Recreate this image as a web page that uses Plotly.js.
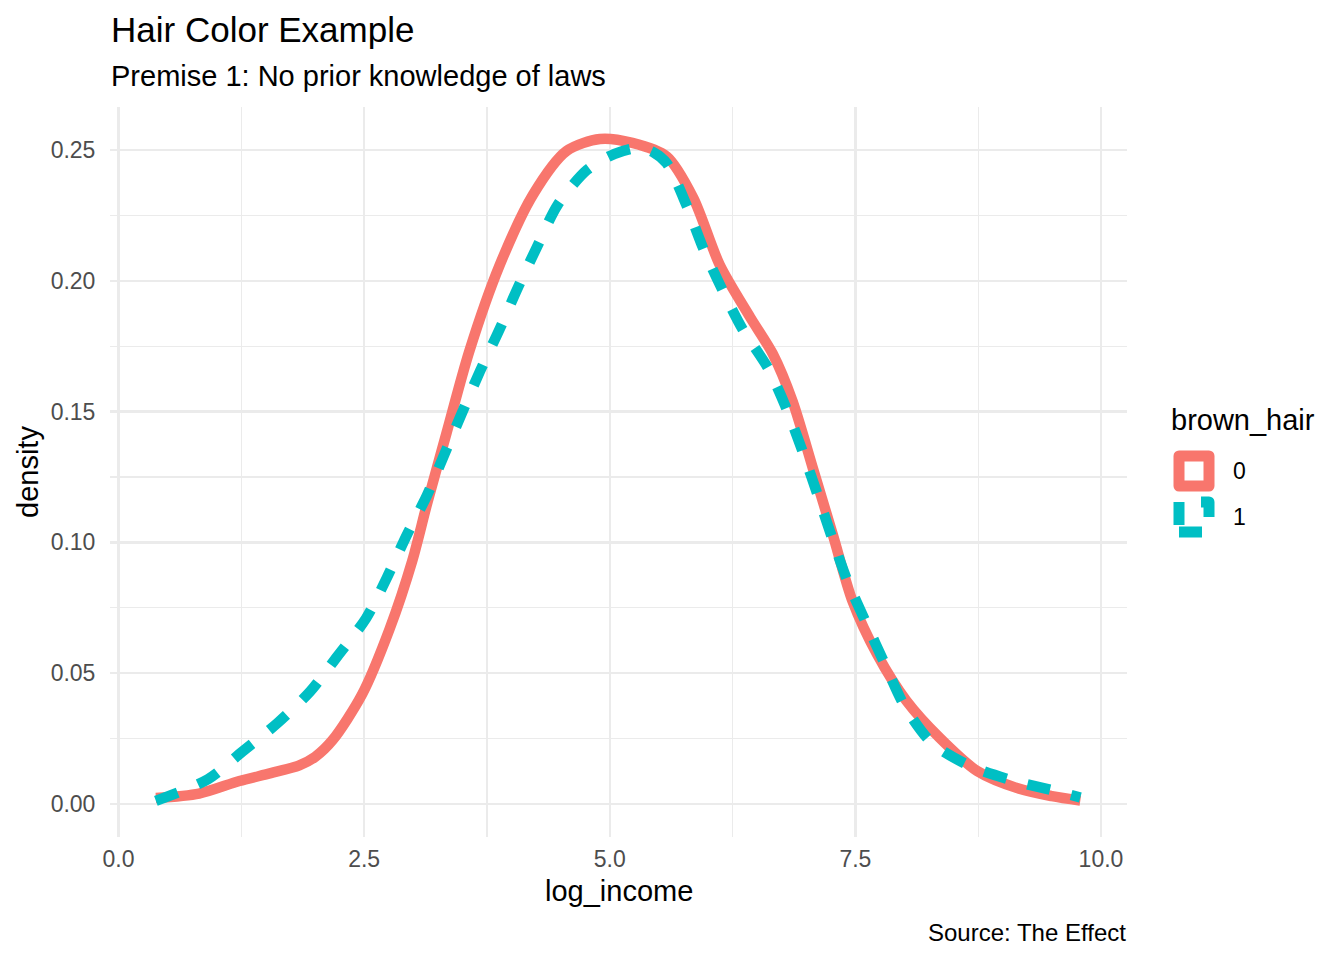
<!DOCTYPE html>
<html>
<head>
<meta charset="utf-8">
<script src="https://cdn.plot.ly/plotly-3.0.1.min.js"></script>
<style>
  html, body { margin: 0; padding: 0; background: #fff; }
  #chart { width: 1344px; height: 960px; }
</style>
</head>
<body>
<div id="chart"></div>
<script>
// density curves, one pair of arrays per group
const hair0X = [0.38, 0.82, 1.23, 1.55, 1.84, 2.0, 2.18, 2.48, 2.76, 2.99, 3.14, 3.34, 3.57, 3.88, 4.22, 4.56, 4.90, 5.23, 5.58, 5.85, 6.12, 6.43, 6.66, 6.86, 7.07, 7.27, 7.47, 7.72, 8.02, 8.36, 8.74, 9.17, 9.50, 9.79];
const hair0Y = [0.0023, 0.0040, 0.0088, 0.0118, 0.0148, 0.018, 0.0245, 0.042, 0.067, 0.093, 0.1147, 0.142, 0.173, 0.206, 0.233, 0.2496, 0.2542, 0.2527, 0.2475, 0.2317, 0.206, 0.186, 0.172, 0.154, 0.128, 0.103, 0.0776, 0.0573, 0.0394, 0.0252, 0.0126, 0.0058, 0.0030, 0.0013];

const hair1X = [0.38, 0.91, 1.26, 1.62, 1.95, 2.23, 2.52, 2.73, 2.93, 3.14, 3.32, 3.49, 3.68, 3.88, 4.06, 4.26, 4.47, 4.77, 5.05, 5.30, 5.45, 5.58, 5.78, 5.95, 6.14, 6.35, 6.61, 6.80, 6.97, 7.12, 7.27, 7.42, 7.61, 7.80, 8.00, 8.28, 8.67, 9.10, 9.56, 9.79];
const hair1Y = [0.0012, 0.0095, 0.020, 0.031, 0.043, 0.0566, 0.071, 0.0864, 0.1025, 0.118, 0.134, 0.149, 0.1655, 0.1816, 0.197, 0.213, 0.229, 0.2424, 0.2485, 0.2508, 0.249, 0.2449, 0.229, 0.2125, 0.197, 0.1816, 0.1667, 0.151, 0.134, 0.1177, 0.101, 0.0852, 0.0692, 0.0535, 0.0375, 0.0233, 0.0145, 0.0090, 0.0048, 0.0025];

const xTicks = [0, 2.5, 5, 7.5, 10];
const xTickText = ['0.0', '2.5', '5.0', '7.5', '10.0'];
const yTicks = [0, 0.05, 0.10, 0.15, 0.20, 0.25];
const yTickText = ['0.00', '0.05', '0.10', '0.15', '0.20', '0.25'];

const groupNames = ['0', '1'];
const groupColors = ['#F8766D', '#00BFC4'];

// panel box in page pixels
const W = 1344, H = 960;
const L = 110, R = 1127, T = 107, B = 837;
const px = (x) => (x - L) / (R - L);
const py = (y) => (B - y) / (B - T);

const FONT = 'Liberation Sans, Arial, sans-serif';
const GRID = '#EBEBEB';

const traces = [
    {
        x: hair0X, y: hair0Y, name: groupNames[0], type: 'scatter', mode: 'lines',
        line: { color: groupColors[0], width: 10.5, shape: 'spline', smoothing: 0.8 },
        hoverinfo: 'skip',
    },
    {
        x: hair1X, y: hair1Y, name: groupNames[1], type: 'scatter', mode: 'lines',
        line: { color: groupColors[1], width: 10.5, dash: '23px,22px', shape: 'spline', smoothing: 0.8 },
        hoverinfo: 'skip',
    },
];

function note(text, x, y, opts) {
    return Object.assign({
        text: text, xref: 'paper', yref: 'paper', x: px(x), y: py(y),
        showarrow: false, xanchor: 'left', yanchor: 'middle',
        font: { family: FONT, size: 29, color: '#000' },
    }, opts || {});
}

const annotations = [
    note('Hair Color Example', 109, 29, { font: { family: FONT, size: 35, color: '#000' } }),
    note('Premise 1: No prior knowledge of laws', 109, 76),
    note('density', 28, 472, { xanchor: 'center', textangle: -90 }),
    note('log_income', 618.5, 891, { xanchor: 'center' }),
    note('Source: The Effect', 1128, 932, { xanchor: 'right', font: { family: FONT, size: 24, color: '#000' } }),
    note('brown_hair', 1169, 420),
];

// hand-made legend keys (ggplot draws boxes, not line samples)
const keyY = [471, 517];
const shapes = [];
groupNames.forEach((g, i) => {
    annotations.push(note(g, 1231, keyY[i], { font: { family: FONT, size: 23, color: '#000' } }));
    shapes.push({
        type: 'rect', xref: 'paper', yref: 'paper',
        xsizemode: 'pixel', ysizemode: 'pixel',
        xanchor: px(1194), yanchor: py(keyY[i]),
        x0: -15, x1: 15, y0: -15, y1: 15,
        line: { color: groupColors[i], width: 11, dash: i === 0 ? 'solid' : '23px,22px' },
        fillcolor: 'rgba(0,0,0,0)',
    });
});

const axisCommon = {
    showline: false, zeroline: false,
    gridcolor: GRID, gridwidth: 2.4,
    ticks: 'outside', tickcolor: 'rgba(0,0,0,0)',
    tickfont: { family: FONT, size: 23, color: '#4D4D4D' },
    tickmode: 'array', fixedrange: true,
};

const layout = {
    width: W, height: H,
    margin: { l: L, r: W - R, t: T, b: H - B, pad: 0 },
    paper_bgcolor: '#fff', plot_bgcolor: '#fff',
    showlegend: false,
    font: { family: FONT },
    xaxis: Object.assign({}, axisCommon, {
        range: [-0.087, 10.265],
        tickvals: xTicks, ticktext: xTickText, ticklen: 1,
        minor: { tickvals: [1.25, 3.75, 6.25, 8.75], showgrid: true, gridcolor: GRID, gridwidth: 1.2, ticks: '' },
    }),
    yaxis: Object.assign({}, axisCommon, {
        range: [-0.0126, 0.2664],
        tickvals: yTicks, ticktext: yTickText, ticklen: 9,
        minor: { tickvals: [0.025, 0.075, 0.125, 0.175, 0.225], showgrid: true, gridcolor: GRID, gridwidth: 1.2, ticks: '' },
    }),
    annotations: annotations,
    shapes: shapes,
};

Plotly.newPlot('chart', traces, layout, { staticPlot: true, displayModeBar: false }).then(() => {
    // ggplot strokes use round joins; soften the legend boxes and curves the same way
    document.querySelectorAll('.shapelayer path, .scatterlayer .js-line').forEach((p) => {
        p.style.strokeLinejoin = 'round';
    });
});
</script>
</body>
</html>
